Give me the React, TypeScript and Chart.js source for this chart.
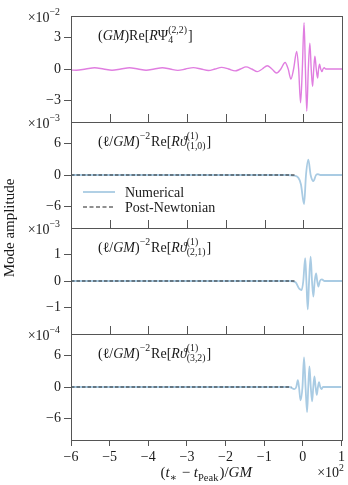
import React, { useEffect, useRef } from 'react';
import { Chart, registerables } from 'chart.js';

Chart.register(...registerables);

// ---------------- data ----------------
const xTickVals = [-600, -500, -400, -300, -200, -100, 0, 100];

// (GM) Re[R Psi4^(2,2)]  (units of 1e-2)
const psiT = [-600, -586, -562, -539, -516, -494, -471, -449, -427, -406, -385, -364, -344, -324, -304, -284, -264, -245, -228, -211, -193, -176, -162, -148, -133, -119, -106, -93, -81, -69, -58, -47, -39, -32, -25, -17, -12, -7, -2.5, 2, 5.5, 9, 13, 17, 20.5, 24, 27, 30, 33.5, 37, 39.5, 42, 45, 48, 51, 54, 58, 100];
const psiV = [-0.1, -0.12, 0, 0.12, 0, -0.12, 0, 0.12, 0, -0.12, 0, 0.12, 0, -0.13, 0, 0.13, 0, -0.14, 0, 0.15, 0, -0.18, 0, 0.2, 0, -0.25, 0, 0.31, 0, -0.38, 0, 0.62, 0, -0.94, 0, 1.65, 0, -3.19, 0, 4.37, 0, -3.97, 0, 2.44, 0, -1.63, 0, 1.2, 0, -0.85, 0, 0.45, 0, -0.25, 0, 0.12, 0, 0];

// (1,0) mode (units of 1e-3)
const num10T = [-600, -40, -26, -13, -6, 2, 7, 13, 19, 26, 33, 38, 44, 100];
const num10V = [0, 0, -0.1, -0.5, -1.8, -5.5, 0, 2.9, 0, -1.16, 0, 0.15, 0, 0];
const pn10T = [-600, -21];
const pn10V = [0, 0];

// (2,1) mode (units of 1e-3)
const num21T = [-600, -35, -20, -10, -4, 0, 5, 8, 11.5, 15, 19, 22.5, 26, 29.5, 33, 36, 39, 43, 48, 55, 100];
const num21V = [0, 0, -0.05, -0.3, -0.34, 0, 0.86, 0, -1.07, 0, 0.92, 0, -0.59, 0, 0.29, 0, -0.21, 0, 0.06, 0, 0];
const pn21T = [-600, -21];
const pn21V = [0, 0];

// (3,2) mode (units of 1e-4)
const num32T = [-600, -35, -22, -17, -13, -10, -6, -1, 3, 7, 11, 14, 17, 20.5, 24, 27, 30, 33, 36, 39, 42, 45, 48, 52, 100];
const num32V = [0, 0, -0.4, 0, 1.3, 0, -2.5, 0, 5.6, 0, -4.75, 0, 3.9, 0, -2.7, 0, 2.0, 0, -1.5, 0, 0.9, 0, -0.4, 0, 0];
const pn32T = [-600, -30];
const pn32V = [0, 0];

const yTicks22 = [-3, 0, 3];
const yTicks10 = [-6, 0, 6];
const yTicks21 = [-1, 0, 1];
const yTicks32 = [-6, 0, 6];
const yLims = [5, 10, 2, 10];
const expLabels = ['−2', '−3', '−3', '−4'];
const legendLabels = ['Numerical', 'Post-Newtonian'];

// ---------------- layout / style ----------------
const W = 348, H = 485;
const PLOT_L = 71, PLOT_R = 342;
const PANEL_TOPS = [16, 122, 228, 334];
const PANEL_H = 106;
const FONT = '"Liberation Serif", "DejaVu Serif", serif';
const AXIS = '#555';
const TEXT = '#1a1a1a';
const MAGENTA = '#e07ee0';
const BLUE = '#a9cbe3';

type Seg = { t?: string; it?: boolean; sup?: string; sub?: string };

const ellTitle = (lm: string): Seg[] => [
  { t: '(' }, { t: 'ℓ' }, { t: '/' }, { t: 'GM', it: true }, { t: ')' }, { sup: '−2' },
  { t: 'Re[' }, { t: 'Rϑ', it: true }, { sup: '(1)', sub: lm }, { t: ']' },
];
const titles: Seg[][] = [
  [{ t: '(' }, { t: 'GM', it: true }, { t: ')Re[' }, { t: 'R', it: true }, { t: 'Ψ' }, { sup: '(2,2)', sub: '4' }, { t: ']' }],
  ellTitle('(1,0)'),
  ellTitle('(2,1)'),
  ellTitle('(3,2)'),
];

const fontStr = (size: number, it?: boolean) => `${it ? 'italic ' : ''}${size}px ${FONT}`;

function segWidth(ctx: CanvasRenderingContext2D, s: Seg, size: number) {
  if (s.t !== undefined) {
    ctx.font = fontStr(size, s.it);
    return ctx.measureText(s.t).width;
  }
  const ss = size * 0.7;
  let w = 0;
  ctx.font = fontStr(ss);
  if (s.sup) w = Math.max(w, ctx.measureText(s.sup).width);
  if (s.sub) w = Math.max(w, ctx.measureText(s.sub).width);
  return w + 1;
}

function drawRich(ctx: CanvasRenderingContext2D, segs: Seg[], x: number, y: number, size: number, align: 'left' | 'center' | 'right' = 'left') {
  const total = segs.reduce((acc, s) => acc + segWidth(ctx, s, size), 0);
  let cx = align === 'left' ? x : align === 'center' ? x - total / 2 : x - total;
  ctx.save();
  ctx.fillStyle = TEXT;
  ctx.textAlign = 'left';
  ctx.textBaseline = 'alphabetic';
  for (const s of segs) {
    const w = segWidth(ctx, s, size);
    if (s.t !== undefined) {
      ctx.font = fontStr(size, s.it);
      ctx.fillText(s.t, cx, y);
    } else {
      const ss = size * 0.7;
      ctx.font = fontStr(ss);
      if (s.sup) ctx.fillText(s.sup, cx, y - size * 0.45);
      if (s.sub) ctx.fillText(s.sub, cx, y + size * 0.25);
    }
    cx += w;
  }
  ctx.restore();
}

const fmt = (n: number) => (n < 0 ? '−' + Math.abs(n) : String(n));
const zip = (xs: number[], ys: number[]) => xs.map((x, i) => ({ x, y: ys[i] }));

function panelDatasets(i: number) {
  const base = { pointRadius: 0, fill: false, cubicInterpolationMode: 'monotone' as const };
  if (i === 0) {
    return [{ ...base, label: 'psi4', data: zip(psiT, psiV), borderColor: MAGENTA, borderWidth: 1.4 }];
  }
  const sets = [
    [num10T, num10V, pn10T, pn10V],
    [num21T, num21V, pn21T, pn21V],
    [num32T, num32V, pn32T, pn32V],
  ][i - 1];
  return [
    { ...base, label: legendLabels[1], data: zip(sets[2], sets[3]), borderColor: '#222', borderWidth: 1.1, borderDash: [3.5, 2], order: 0 },
    { ...base, label: legendLabels[0], data: zip(sets[0], sets[1]), borderColor: BLUE, borderWidth: 1.8, order: 1 },
  ];
}

function buildConfig(i: number): any {
  const top = PANEL_TOPS[i];
  const isLast = i === 3;
  const yTicks = [yTicks22, yTicks10, yTicks21, yTicks32][i];
  const lim = yLims[i];
  const tickFont = { family: FONT, size: 14 };

  const overlay = {
    id: 'overlay' + i,
    afterDraw(chart: any) {
      const ctx: CanvasRenderingContext2D = chart.ctx;
      const a = chart.chartArea;
      const xs = chart.scales.x;
      ctx.save();
      ctx.strokeStyle = AXIS;
      ctx.lineWidth = 1;
      ctx.strokeRect(Math.round(a.left) + 0.5, Math.round(a.top) + 0.5, Math.round(a.right - a.left), Math.round(a.bottom - a.top));
      if (i > 0) {
        ctx.beginPath();
        for (const v of xTickVals) {
          const px = Math.round(xs.getPixelForValue(v)) + 0.5;
          ctx.moveTo(px, Math.round(a.top));
          ctx.lineTo(px, Math.round(a.top) - 8);
        }
        ctx.stroke();
      }
      ctx.restore();

      // exponent label
      drawRich(ctx, [{ t: '×10' }, { sup: expLabels[i] }], 61, a.top + 5.5, 14, 'right');
      // panel title
      drawRich(ctx, titles[i], 98, a.top + 23.5, 14);

      if (i === 1) {
        ctx.save();
        const y1 = a.top + 70, y2 = a.top + 85;
        ctx.strokeStyle = BLUE;
        ctx.lineWidth = 1.8;
        ctx.beginPath(); ctx.moveTo(83, y1); ctx.lineTo(115, y1); ctx.stroke();
        ctx.strokeStyle = '#222';
        ctx.lineWidth = 1.2;
        ctx.setLineDash([4, 2.5]);
        ctx.beginPath(); ctx.moveTo(83, y2); ctx.lineTo(115, y2); ctx.stroke();
        ctx.setLineDash([]);
        ctx.fillStyle = TEXT;
        ctx.font = fontStr(14);
        ctx.textBaseline = 'alphabetic';
        ctx.fillText(legendLabels[0], 125, y1 + 4.5);
        ctx.fillText(legendLabels[1], 125, y2 + 4.5);
        ctx.restore();
      }

      if (isLast) {
        drawRich(ctx, [{ t: '(' }, { t: 't', it: true }, { sub: '∗' }, { t: ' − ' }, { t: 't', it: true }, { sub: 'Peak' }, { t: ')/' }, { t: 'GM', it: true }], (a.left + a.right) / 2, 477, 15, 'center');
        drawRich(ctx, [{ t: '×10' }, { sup: '2' }], 345, 477, 14, 'right');
        ctx.save();
        ctx.translate(10, (PANEL_TOPS[0] + a.bottom) / 2);
        ctx.rotate(-Math.PI / 2);
        ctx.fillStyle = TEXT;
        ctx.font = fontStr(15);
        ctx.textAlign = 'center';
        ctx.textBaseline = 'middle';
        ctx.fillText('Mode amplitude', 0, 0);
        ctx.restore();
      }
    },
  };

  return {
    type: 'line',
    data: { datasets: panelDatasets(i) },
    options: {
      responsive: false,
      animation: false,
      events: [],
      parsing: true,
      layout: {
        padding: {
          left: 0,
          right: W - PLOT_R,
          top: top,
          bottom: isLast ? 0 : H - top - PANEL_H,
        },
      },
      plugins: { legend: { display: false }, tooltip: { enabled: false }, title: { display: false } },
      scales: {
        x: {
          type: 'linear',
          min: -600,
          max: 100,
          display: isLast,
          afterBuildTicks: (s: any) => { s.ticks = xTickVals.map((v) => ({ value: v })); },
          afterFit: (s: any) => { if (isLast) s.height = H - (top + PANEL_H); },
          grid: { display: true, drawOnChartArea: false, drawTicks: true, tickLength: 6, color: AXIS },
          border: { display: true, color: AXIS },
          ticks: {
            color: TEXT,
            font: tickFont,
            padding: 3,
            maxRotation: 0,
            autoSkip: false,
            callback: (v: any) => fmt(Math.round(Number(v) / 100)),
          },
        },
        y: {
          type: 'linear',
          position: 'left',
          min: -lim,
          max: lim,
          afterBuildTicks: (s: any) => { s.ticks = yTicks.map((v) => ({ value: v })); },
          afterFit: (s: any) => { s.width = PLOT_L; },
          grid: { display: true, drawOnChartArea: false, drawTicks: true, tickLength: 7, color: AXIS },
          border: { display: true, color: AXIS },
          ticks: {
            color: TEXT,
            font: tickFont,
            padding: 3,
            autoSkip: false,
            callback: (v: any) => fmt(Number(v)),
          },
        },
      },
    },
    plugins: [overlay],
  };
}

export default function App() {
  const refs = useRef<(HTMLCanvasElement | null)[]>([]);
  useEffect(() => {
    const charts = [0, 1, 2, 3].map((i) => new Chart(refs.current[i] as HTMLCanvasElement, buildConfig(i)));
    return () => charts.forEach((c) => c.destroy());
  }, []);
  return (
    <div style={{ position: 'absolute', left: 0, top: 0, width: W, height: H, background: '#fff' }}>
      {[0, 1, 2, 3].map((i) => (
        <canvas
          key={i}
          ref={(el) => { refs.current[i] = el; }}
          width={W}
          height={H}
          style={{ position: 'absolute', left: 0, top: 0, width: W, height: H }}
        />
      ))}
    </div>
  );
}
